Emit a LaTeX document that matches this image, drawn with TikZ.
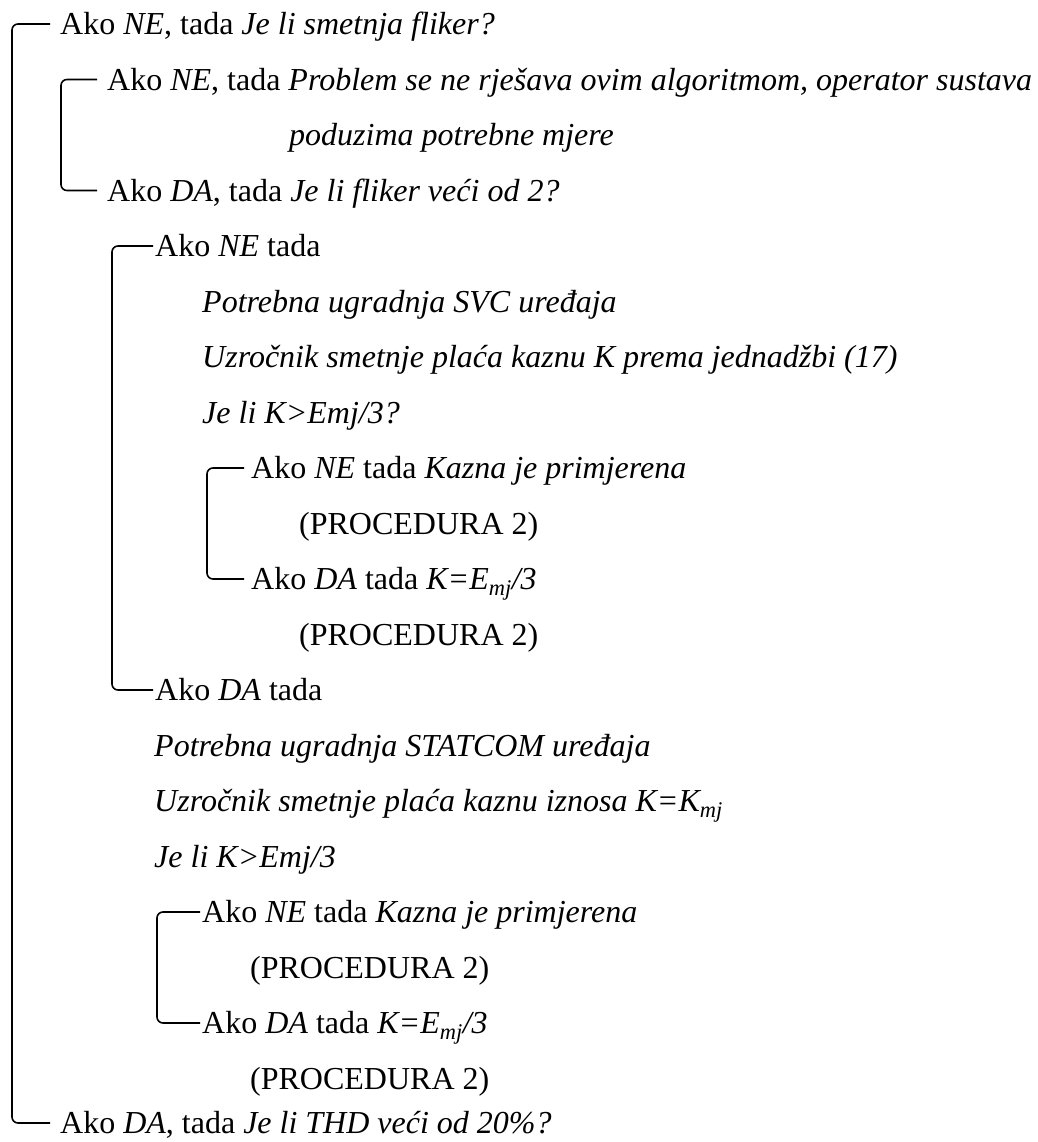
\documentclass[tikz,border=0pt]{standalone}
\usepackage{fontspec}
\setmainfont{Liberation Serif}
\begin{document}
\begin{tikzpicture}[x=1pt,y=-1pt,
  txt/.style={anchor=west,inner sep=0pt,text height=28.5pt,text depth=7.4pt,font=\fontsize{32}{38}\selectfont},
  brk/.style={draw=black,line width=1.6pt,rounded corners=6pt}]
\useasboundingbox (0,0) rectangle (1037,1142);
\node[txt] (t1)  at (60,24)    {Ako \textit{NE}, tada \textit{Je li smetnja fliker?}};
\node[txt] (t2)  at (107,79.5) {Ako \textit{NE}, tada \textit{Problem se ne rješava ovim algoritmom, operator sustava}};
\node[txt] (t3)  at (289,135)  {\textit{poduzima potrebne mjere}};
\node[txt] (t4)  at (107,190.5){Ako \textit{DA}, tada \textit{Je li fliker veći od 2?}};
\node[txt] (t5)  at (155,246)  {Ako \textit{NE} tada};
\node[txt] (t6)  at (202,301.5){\textit{Potrebna ugradnja SVC uređaja}};
\node[txt] (t7)  at (202,357)  {\textit{Uzročnik smetnje plaća kaznu K prema jednadžbi (17)}};
\node[txt] (t8)  at (202,412.5){\textit{Je li K>Emj/3?}};
\node[txt] (t9)  at (251,468)  {Ako \textit{NE} tada \textit{Kazna je primjerena}};
\node[txt] (t10) at (299,523.5){(PROCEDURA 2)};
\node[txt] (t11) at (251,579)  {Ako \textit{DA} tada \textit{K=E\textsubscript{mj}/3}};
\node[txt] (t12) at (299,634.5){(PROCEDURA 2)};
\node[txt] (t13) at (155,690)  {Ako \textit{DA} tada};
\node[txt] (t14) at (154,745.5){\textit{Potrebna ugradnja STATCOM uređaja}};
\node[txt] (t15) at (154,801)  {\textit{Uzročnik smetnje plaća kaznu iznosa K=K\textsubscript{mj}}};
\node[txt] (t16) at (154,856.5){\textit{Je li K>Emj/3}};
\node[txt] (t17) at (202,912)  {Ako \textit{NE} tada \textit{Kazna je primjerena}};
\node[txt] (t18) at (250,967.5){(PROCEDURA 2)};
\node[txt] (t19) at (202,1023) {Ako \textit{DA} tada \textit{K=E\textsubscript{mj}/3}};
\node[txt] (t20) at (250,1078.5){(PROCEDURA 2)};
\node[txt] (t21) at (60,1123)  {Ako \textit{DA}, tada \textit{Je li THD veći od 20\%?}};
% brackets
\draw[brk] ([xshift=-10pt]t1.west) -| ([xshift=-48pt]t21.west) -- ([xshift=-10pt]t21.west);
\draw[brk] ([xshift=-10pt]t2.west) -| ([xshift=-46pt]t4.west) -- ([xshift=-10pt]t4.west);
\draw[brk] ([xshift=-2pt]t5.west) -| ([xshift=-43pt]t13.west) -- ([xshift=-2pt]t13.west);
\draw[brk] ([xshift=-7pt]t9.west) -| ([xshift=-44pt]t11.west) -- ([xshift=-7pt]t11.west);
\draw[brk] ([xshift=-2pt]t17.west) -| ([xshift=-45pt]t19.west) -- ([xshift=-2pt]t19.west);
\end{tikzpicture}
\end{document}
